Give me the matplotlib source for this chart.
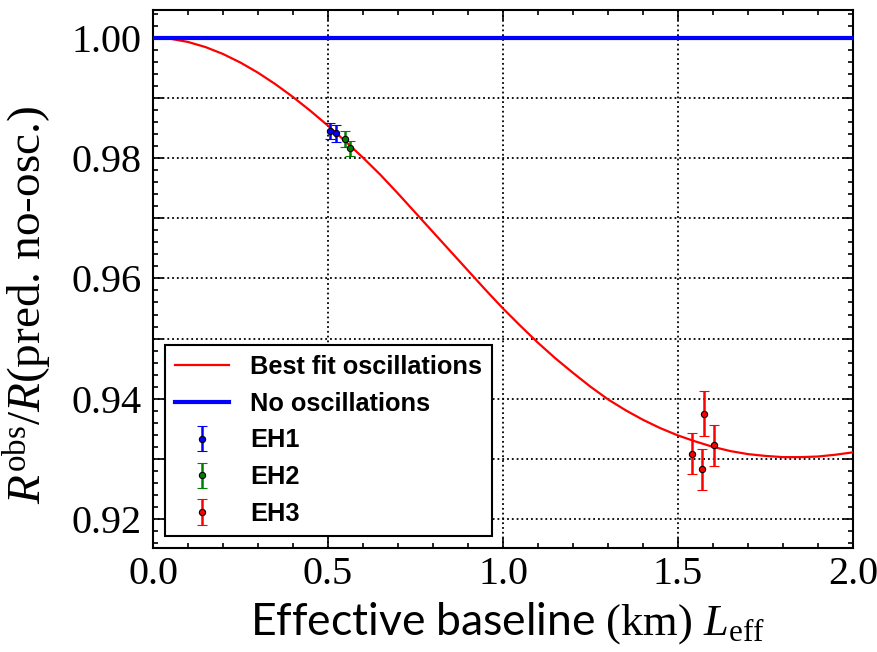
import numpy as np
import matplotlib
matplotlib.use('Agg')
import matplotlib.pyplot as plt
from matplotlib.ticker import MultipleLocator, FuncFormatter

# Best fit curve (every 0.05 km)
fit_L = [0.0, 0.05, 0.10, 0.15, 0.20, 0.25, 0.30, 0.35, 0.40, 0.45,
         0.50, 0.55, 0.60, 0.65, 0.70, 0.75, 0.80, 0.85, 0.90, 0.95,
         1.00, 1.05, 1.10, 1.15, 1.20, 1.25, 1.30, 1.35, 1.40, 1.45,
         1.50, 1.55, 1.60, 1.65, 1.70, 1.75, 1.80, 1.85, 1.90, 1.95, 2.00]
fit_R = [1.0, 0.99982, 0.99929, 0.99844, 0.99729, 0.99586, 0.99418, 0.99226, 0.99014, 0.98783,
         0.98537, 0.98276, 0.98006, 0.9772, 0.9741, 0.9709, 0.9677, 0.9645, 0.9613, 0.9581,
         0.9550, 0.9521, 0.9493, 0.9467, 0.9443, 0.9420, 0.9399, 0.9381, 0.9365, 0.9351,
         0.9339, 0.9329, 0.9320, 0.9313, 0.9308, 0.9305, 0.9303, 0.9303, 0.9304, 0.9307, 0.9311]

# No oscillation line
noosc_L = [0.0, 2.0]
noosc_R = [1.0, 1.0]

# Measured points per hall
eh1_L = [0.507, 0.522]
eh1_R = [0.9845, 0.9841]
eh1_err = [0.0014, 0.0014]

eh2_L = [0.548, 0.563]
eh2_R = [0.9832, 0.9816]
eh2_err = [0.0013, 0.0013]

eh3_L = [1.541, 1.569, 1.575, 1.603]
eh3_R = [0.9309, 0.9283, 0.9375, 0.9323]
eh3_err = [0.00345, 0.0034, 0.00375, 0.0034]

plt.rcParams['mathtext.fontset'] = 'custom'
plt.rcParams['mathtext.rm'] = 'Liberation Serif'
plt.rcParams['mathtext.it'] = 'Liberation Serif:italic'
plt.rcParams['mathtext.sf'] = 'Lato'

fig = plt.figure(figsize=(8.77, 6.52), dpi=100)
ax = fig.add_axes([153 / 877, 1 - 548 / 652, 700 / 877, 538 / 652])

ax.plot(fit_L, fit_R, color='#ff0000', lw=1.6, label='Best fit oscillations', zorder=3)
ax.plot(noosc_L, noosc_R, color='#0000ff', lw=3, label='No oscillations', zorder=3)

eb_kw = dict(fmt='o', ms=4.5, mec='k', mew=0.8, elinewidth=1.8, capsize=3.5, capthick=1.8, zorder=4)
ax.errorbar(eh1_L, eh1_R, yerr=eh1_err, color='#0000ff', mfc='#0000ff', label='EH1', **eb_kw)
ax.errorbar(eh2_L, eh2_R, yerr=eh2_err, color='#008000', mfc='#008000', label='EH2', **eb_kw)
ax.errorbar(eh3_L, eh3_R, yerr=eh3_err, color='#ff0000', mfc='#ff0000', label='EH3', **eb_kw)

ax.set_xlim(0, 2)
ax.set_ylim(0.9152, 1.0046)

ax.xaxis.set_major_locator(MultipleLocator(0.5))
ax.xaxis.set_minor_locator(MultipleLocator(0.1))
ax.yaxis.set_major_locator(MultipleLocator(0.01))
ax.yaxis.set_minor_locator(MultipleLocator(0.002))
ax.xaxis.set_major_formatter(FuncFormatter(lambda v, p: f'{v:.1f}'))
ax.yaxis.set_major_formatter(FuncFormatter(
    lambda v, p: f'{v:.2f}' if int(round(v * 100)) % 2 == 0 else ''))

ax.tick_params(which='both', direction='in', top=True, right=True, width=1.2, colors='k')
ax.tick_params(which='major', length=7)
ax.tick_params(axis='y', which='major', pad=8)
ax.tick_params(axis='x', which='major', pad=6)
ax.tick_params(which='minor', length=3.5)
for lab in ax.get_xticklabels() + ax.get_yticklabels():
    lab.set_fontfamily('Liberation Serif')
    lab.set_fontsize(29)

for sp in ax.spines.values():
    sp.set_linewidth(1.5)
    sp.set_color('k')

ax.grid(True, which='major', color='k', linestyle=':', linewidth=1.3)

ax.set_xlabel(r'$\mathsf{Effective\ baseline}$ (km) $L_{\mathrm{eff}}$',
              fontfamily='Liberation Serif', fontsize=32, va='center')
ax.xaxis.set_label_coords(0.507, -0.14)
ax.set_ylabel(r'$R^{\mathrm{obs}}/R$(pred. no-osc.)',
              fontfamily='Liberation Serif', fontsize=34, va='center')
ax.yaxis.set_label_coords(-0.179, 0.452)

leg = ax.legend(loc='lower left', bbox_to_anchor=(12 / 700, 12 / 538),
                prop={'family': 'Liberation Sans', 'weight': 'bold', 'size': 18.3},
                frameon=True, fancybox=False, framealpha=1, edgecolor='k',
                borderpad=0.4, labelspacing=0.5, handlelength=2.1,
                handletextpad=0.85, borderaxespad=0)
leg.get_frame().set_linewidth(1.5)

plt.savefig('out.png', dpi=100)
